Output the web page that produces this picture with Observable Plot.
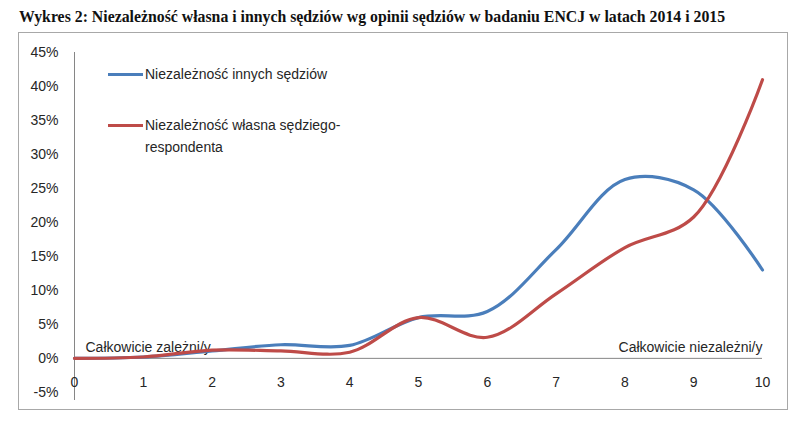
<!DOCTYPE html>
<html><head><meta charset="utf-8">
<script src="https://cdn.jsdelivr.net/npm/d3@7"></script>
<script src="https://cdn.jsdelivr.net/npm/@observablehq/plot@0.6"></script>
<style>
body{margin:0;background:#fff;width:810px;height:427px;position:relative;overflow:hidden;font-family:"Liberation Sans",Arial,sans-serif;}
#title{position:absolute;left:19px;top:8px;font-family:"Liberation Serif",serif;font-weight:bold;font-size:15.8px;color:#111;white-space:nowrap;}
#box{position:absolute;left:18px;top:32px;width:768px;height:376px;border:1.5px solid #a8a8a8;}
#chart{position:absolute;left:0;top:0;}
.leg{position:absolute;font-size:14px;color:#262626;line-height:22px;white-space:nowrap;}
.sw{position:absolute;height:3px;width:35px;}
</style></head><body>
<div id="title"></div>
<div id="box"></div>
<div id="chart"></div>
<div id="legend"></div>
<script>
const titleText = "Wykres 2: Niezależność własna i innych sędziów wg opinii sędziów w badaniu ENCJ w latach 2014 i 2015";
const xs = [0, 1, 2, 3, 4, 5, 6, 7, 8, 9, 10];
const innych = [0, 0.2, 1.1, 2.0, 1.9, 6.0, 6.9, 16.0, 26.3, 24.8, 13.0];
const wlasna = [0, 0.2, 1.2, 1.1, 0.9, 6.0, 3.1, 9.5, 16.3, 20.8, 41.0];
const seriesNames = ["Niezależność innych sędziów", "Niezależność własna sędziego-<br>respondenta"];
const colors = ["#4a7ebb", "#be4b48"];
const yTicks = [-0.05, 0, 0.05, 0.10, 0.15, 0.20, 0.25, 0.30, 0.35, 0.40, 0.45];
const xTicks = [0, 1, 2, 3, 4, 5, 6, 7, 8, 9, 10];
const leftLabel = "Całkowicie zależni/y";
const rightLabel = "Całkowicie niezależni/y";

document.getElementById("title").textContent = titleText;

const chart = Plot.plot({
  width: 810, height: 427,
  marginLeft: 74, marginRight: 48, marginTop: 52, marginBottom: 27,
  x: {domain: [0, 10], axis: null},
  y: {domain: [-0.062, 0.45], axis: null},
  style: {fontFamily: "'Liberation Sans', Arial, sans-serif", fontSize: "14px", background: "transparent", color: "#262626"},
  marks: [
    Plot.ruleX([0], {y1: -0.062, y2: 0.45, stroke: "#868686", strokeWidth: 1}),
    Plot.ruleY([0], {x1: 0, x2: 10, stroke: "#868686", strokeWidth: 1}),
    Plot.axisY(yTicks, {tickSize: 0, tickPadding: 16, tickFormat: d => Math.round(d * 100) + "%", fontSize: 14, fill: "#262626"}),
    Plot.text(xTicks, {x: d => d, y: 0, dy: 24, text: d => String(d), fontSize: 14, fill: "#262626"}),
    Plot.text([leftLabel], {x: 0, y: 0, text: d => d, dx: 11, dy: -11, textAnchor: "start", fontSize: 14, fill: "#262626"}),
    Plot.text([rightLabel], {x: 10, y: 0, text: d => d, dx: 0, dy: -11, textAnchor: "end", fontSize: 14, fill: "#262626"}),
    Plot.line(xs, {x: d => d, y: (d, i) => innych[i] / 100, curve: "catmull-rom", stroke: colors[0], strokeWidth: 3.2}),
    Plot.line(xs, {x: d => d, y: (d, i) => wlasna[i] / 100, curve: "catmull-rom", stroke: colors[1], strokeWidth: 3.2})
  ]
});
document.getElementById("chart").appendChild(chart);

const leg = document.getElementById("legend");
const legPos = [74, 125];
seriesNames.forEach((n, i) => {
  const sw = document.createElement("div");
  sw.className = "sw";
  sw.style.left = "108px";
  sw.style.top = (legPos[i] - 1.5) + "px";
  sw.style.background = colors[i];
  leg.appendChild(sw);
  const t = document.createElement("div");
  t.className = "leg";
  t.style.left = "145px";
  t.style.top = (legPos[i] - 11) + "px";
  t.innerHTML = n;
  leg.appendChild(t);
});
</script>
</body></html>
